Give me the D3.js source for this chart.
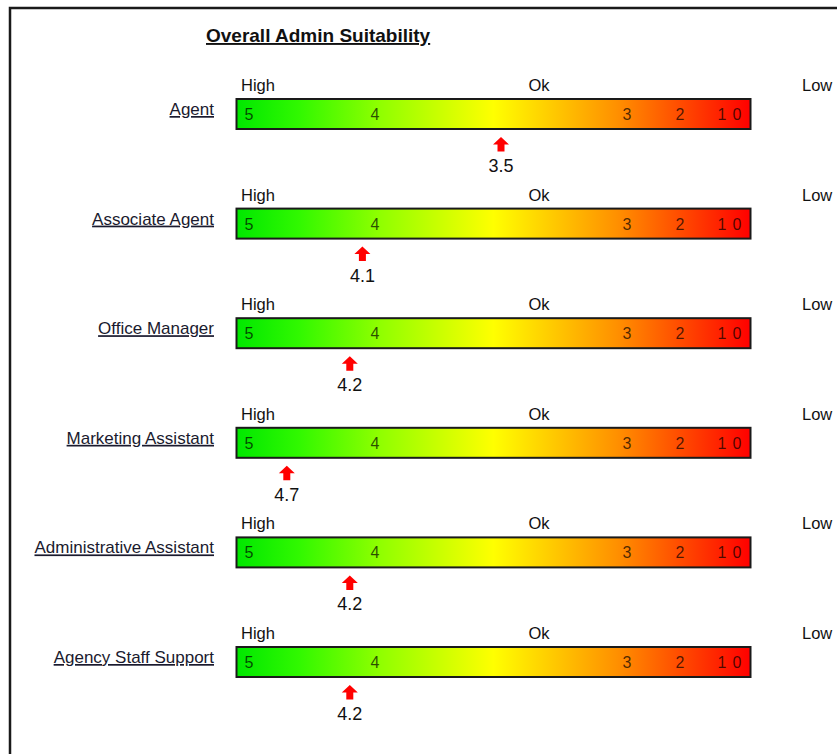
<!DOCTYPE html>
<html><head><meta charset="utf-8">
<script src="https://cdn.jsdelivr.net/npm/d3@7"></script>
<style>
html,body{margin:0;padding:0;background:#fff;}
svg{display:block;font-family:"Liberation Sans",Arial,sans-serif;}
</style></head>
<body>
<svg id="chart" width="837" height="754"></svg>
<script>
const title = "Overall Admin Suitability";
const categories = ["Agent","Associate Agent","Office Manager","Marketing Assistant","Administrative Assistant","Agency Staff Support"];
const scores = [3.5, 4.1, 4.2, 4.7, 4.2, 4.2];
const tickValues = [5,4,3,2,1,0];
const zoneLabels = ["High","Ok","Low"];
const gradientStops = [
  {offset:0, color:"#00e800"},
  {offset:0.12, color:"#30f800"},
  {offset:0.28, color:"#90ff00"},
  {offset:0.5, color:"#ffff00"},
  {offset:0.74, color:"#ff9000"},
  {offset:1, color:"#ff0000"}
];

const svg = d3.select("#chart");
const barX0 = 236.5, barX1 = 750.5, barH = 30;

// frame
svg.append("rect").attr("x",10).attr("y",8).attr("width",900).attr("height",900)
  .attr("fill","none").attr("stroke","#1a1a1a").attr("stroke-width",2.5);

// gradient
const defs = svg.append("defs");
const grad = defs.append("linearGradient").attr("id","g").attr("x1","0%").attr("x2","100%").attr("y1","0%").attr("y2","0%");
grad.selectAll("stop").data(gradientStops).join("stop")
  .attr("offset",d=>d.offset).attr("stop-color",d=>d.color);

// value scale (non-uniform zones)
const x = d3.scaleLinear().domain(tickValues).range([249, 375, 627, 680, 722, 737]);
// row scale
const y = d3.scaleBand().domain(categories).range([99, 99 + 109.6*6]);

// title
svg.append("text").attr("x",206).attr("y",42).text(title)
  .attr("font-size",19).attr("font-weight","bold").attr("fill","#111")
  .style("text-decoration","underline");

const rows = svg.selectAll("g.row").data(categories.map((c,i)=>({cat:c, v:scores[i]})))
  .join("g").attr("class","row").attr("transform",d=>`translate(0,${y(d.cat)})`);

// zone labels
const zoneX = [241, 539, 802];
const zoneAnchor = ["start","middle","start"];
rows.each(function(){
  d3.select(this).selectAll("text.zone").data(zoneLabels).join("text").attr("class","zone")
    .attr("x",(d,i)=>zoneX[i]).attr("y",-8).attr("text-anchor",(d,i)=>zoneAnchor[i])
    .attr("font-size",16.5).attr("fill","#111").text(d=>d);
});

// category labels
rows.append("text").attr("x",214).attr("y",16).attr("text-anchor","end")
  .attr("font-size",17).attr("fill","#1a1a2e").style("text-decoration","underline")
  .text(d=>d.cat);

// bar
rows.append("rect").attr("x",barX0).attr("y",0).attr("width",barX1-barX0).attr("height",barH)
  .attr("fill","url(#g)").attr("stroke","#1a1a1a").attr("stroke-width",2);

// tick labels inside bar
rows.each(function(){
  d3.select(this).selectAll("text.tick").data(tickValues).join("text").attr("class","tick")
    .attr("x",d=>x(d)).attr("y",21).attr("text-anchor","middle")
    .attr("font-size",16).attr("fill","#000").attr("fill-opacity",0.7).text(d=>d);
});

// arrows
const arrow = "M0,0 L8,7.5 L3.5,7.5 L3.5,14.5 L-3.5,14.5 L-3.5,7.5 L-8,7.5 Z";
rows.append("path").attr("d",arrow).attr("fill","#ff0000")
  .attr("transform",d=>`translate(${x(d.v)},${barH+8})`);
rows.append("text").attr("x",d=>x(d.v)).attr("y",73).attr("text-anchor","middle")
  .attr("font-size",18).attr("fill","#111").text(d=>d.v.toFixed(1));
</script>
</body></html>
